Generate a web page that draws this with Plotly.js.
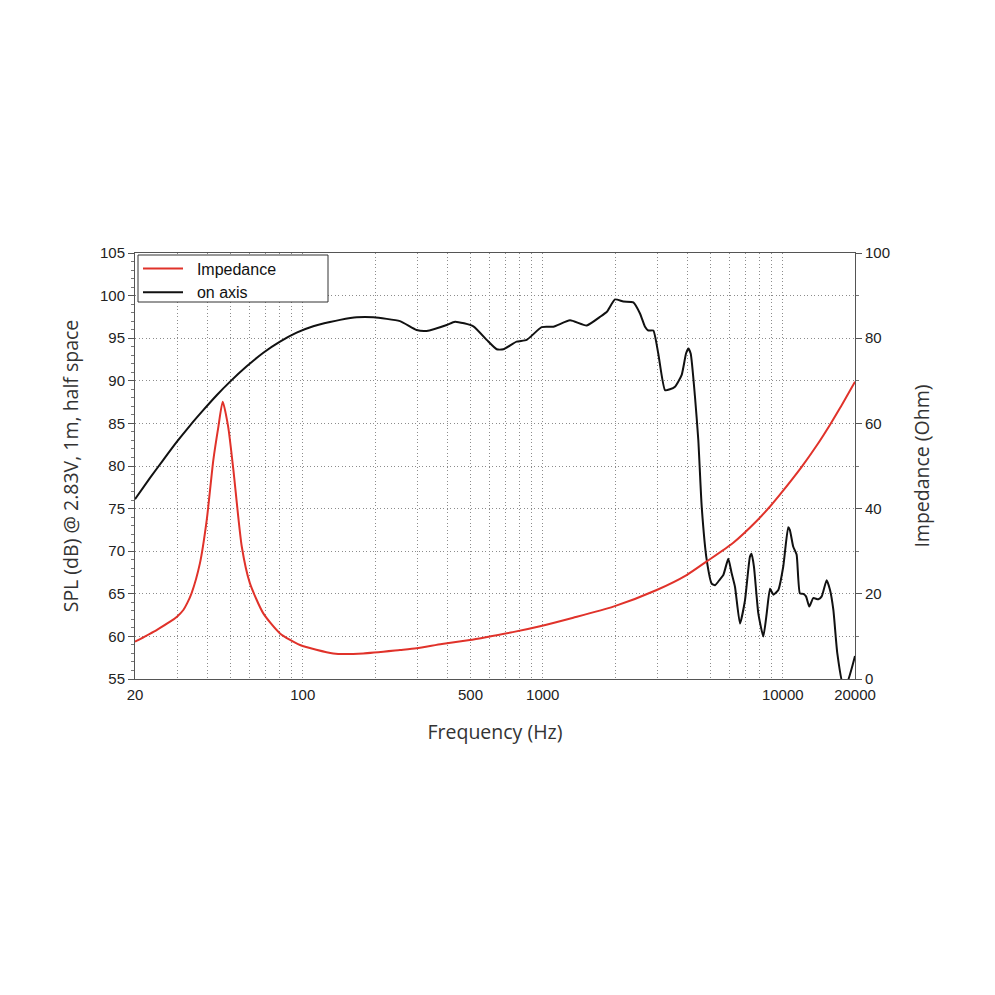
<!DOCTYPE html>
<html>
<head>
<meta charset="utf-8">
<script src="https://cdn.plot.ly/plotly-3.0.1.min.js"></script>
<style>html,body{margin:0;padding:0;background:#fff;}#chart{width:995px;height:995px;}</style>
</head>
<body>
<div id="chart"></div>
<script>
// On-axis SPL (dB) vs frequency (Hz)
const splFreq = [20,23.1,26.2,29.8,33.9,38.5,43.8,49.8,58.4,68.5,80.4,94.3,110.6,129.8,143,168,197,254,298,328,398,431,514,584,643,685,778,857,990,1107,1299,1525,1731,1850,2000,2167,2384,2542,2667,2754,2888,3029,3232,3388,3557,3793,3953,4041,4134,4309,4448,4596,4820,5056,5220,5475,5654,5930,6125,6325,6634,6958,7298,7414,7585,7910,8298,8573,8853,9141,9584,10049,10537,10704,11052,11421,11790,12180,12500,12900,13400,14070,14530,15240,15740,16250,16880,17780,18460,20000];
const splValues = [76.1,78.6,80.7,82.8,84.75,86.55,88.3,89.9,91.7,93.3,94.6,95.65,96.4,96.9,97.15,97.45,97.45,97.0,95.96,95.85,96.55,96.94,96.4,94.8,93.7,93.7,94.6,94.8,96.3,96.35,97.1,96.5,97.5,98.1,99.55,99.3,99.2,97.9,96.35,95.9,95.9,93.2,88.9,89.0,89.3,90.7,93.2,93.8,93.2,88.1,83.05,75.2,69.0,66.2,66.0,66.7,67.2,69.1,67.4,65.8,61.5,64.2,69.35,69.7,68.2,62.7,60.0,62.7,65.6,64.9,65.45,68.2,72.8,72.5,70.55,69.6,65.05,65.0,64.7,63.5,64.5,64.35,64.7,66.6,65.45,63.1,58.0,54.5,54.5,57.7];

// Impedance (Ohm) vs frequency (Hz)
const impFreq = [20,24.6,28.0,30,31.8,33,34.4,37.3,39.8,42.4,44.5,46.4,48.9,51.4,55.7,60.2,68.5,80.4,97.4,134,178.7,254,298,380,497,602,750,974,1340,1968,2985,3976,4820,6222,7785,8853,9900,11990,13850,15740,17320,20000];
const impValues = [8.76,11.5,13.45,14.7,16.2,17.8,20.1,27.2,37.3,51.4,59.2,65.1,59.2,49.1,31.1,22.5,15.4,10.7,7.98,6.0,6.0,6.8,7.2,8.2,9.15,10.0,11.0,12.4,14.4,17.0,20.9,24.4,27.6,32.0,37.1,40.5,43.8,49.8,54.8,59.7,63.6,69.8];

const xLabelVals = [20,100,500,1000,10000,20000];
const seriesNames = ["Impedance","on axis"];

// grid positions: 1..9 x decades within 20..20000
const gridVals = [];
for (let d = 10; d <= 10000; d *= 10) {
  for (let m = 1; m <= 9; m++) {
    const v = m * d;
    if (v >= 20 && v <= 20000) gridVals.push(v);
  }
}
if (gridVals.indexOf(20000) < 0) gridVals.push(20000);
const gridText = gridVals.map(v => xLabelVals.indexOf(v) >= 0 ? String(v) : "");

const tickFont = {family: "Liberation Sans, Arial, sans-serif", size: 15, color: "#222"};
const titleFont = {family: "Open Sans, sans-serif", size: 19.5, color: "#333"};
const gridDash = "1px,2.5px";
const gridColor = "#8c8c8c";

const NB = "\u00a0\u00a0";
const traces = [
  {x: impFreq, y: impValues, name: NB + seriesNames[0], yaxis: "y2", type: "scatter", mode: "lines",
   line: {color: "#e0322a", width: 2, shape: "spline", smoothing: 0.6}},
  {x: splFreq, y: splValues, name: NB + seriesNames[1], yaxis: "y", type: "scatter", mode: "lines",
   line: {color: "#111111", width: 2, shape: "spline", smoothing: 0.5}}
];

// plot area in pixels: x 135..855, y 253..679
const px = v => (v - 135) / 720;
const py = v => (679 - v) / 426;

const layout = {
  width: 995, height: 995,
  margin: {l: 135, r: 140, t: 253, b: 316},
  paper_bgcolor: "#fff", plot_bgcolor: "#fff",
  showlegend: true,
  legend: {x: px(138), y: py(251.5), xanchor: "left", yanchor: "top", bgcolor: "rgba(0,0,0,0)",
    borderwidth: 0, font: {family: "Liberation Sans, Arial, sans-serif", size: 16, color: "#111"},
    itemwidth: 40, tracegroupgap: 0},
  shapes: [{type: "rect", xref: "paper", yref: "paper", x0: px(138), x1: px(328), y0: py(302), y1: py(255),
    fillcolor: "#fff", line: {color: "#333", width: 1}, layer: "above"}],
  xaxis: {type: "log", range: [Math.log10(20), Math.log10(20000)],
    tickmode: "array", tickvals: gridVals, ticktext: gridText, ticks: "",
    showgrid: true, gridcolor: gridColor, griddash: gridDash, gridwidth: 1,
    showline: true, linecolor: "#555", linewidth: 1, mirror: true, zeroline: false,
    tickfont: tickFont, ticklabelstandoff: 2,
    title: {text: "Frequency (Hz)", font: titleFont, standoff: 23}},
  yaxis: {range: [55, 105], tickmode: "linear", tick0: 55, dtick: 5,
    ticks: "outside", ticklen: 6, tickcolor: "#555",
    minor: {ticks: "outside", dtick: 1, ticklen: 3, tickcolor: "#777", showgrid: false},
    showgrid: true, gridcolor: gridColor, griddash: gridDash, gridwidth: 1,
    showline: true, linecolor: "#555", linewidth: 1, mirror: true, zeroline: false,
    tickfont: tickFont,
    title: {text: "SPL (dB) @ 2.83V, 1m, half space", font: titleFont, standoff: 16}},
  yaxis2: {range: [0, 100], overlaying: "y", side: "right", tickmode: "linear", tick0: 0, dtick: 20,
    ticks: "outside", ticklen: 6, tickcolor: "#555",
    minor: {ticks: "outside", dtick: 10, ticklen: 3, tickcolor: "#777", showgrid: false},
    showgrid: false, showline: false, zeroline: false,
    tickfont: tickFont,
    title: {text: "Impedance (Ohm)", font: titleFont, standoff: 26}}
};

Plotly.newPlot("chart", traces, layout, {displayModeBar: false, staticPlot: true});
</script>
</body>
</html>
